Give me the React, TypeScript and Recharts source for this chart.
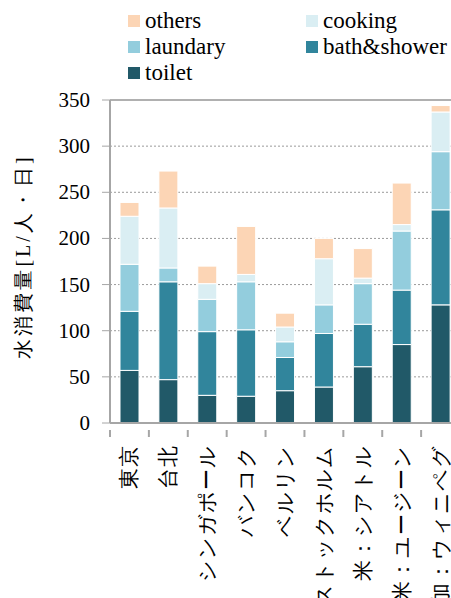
import React from 'react';
import { BarChart, Bar, XAxis, YAxis, CartesianGrid, Legend, ReferenceLine } from 'recharts';

const cities = ['東京', '台北', 'シンガポール', 'バンコク', 'ベルリン', 'ストックホルム', '米：シアトル', '米：ユージーン', '加：ウィニペグ'];
const toilet = [57, 47, 30, 29, 35, 39, 61, 85, 128];
const bathShower = [64, 106, 69, 72, 36, 58, 46, 59, 103];
const laundary = [51, 15, 35, 52, 17, 31, 44, 64, 63];
const cooking = [52, 65, 17, 8, 16, 50, 6, 7, 43];
const others = [15, 40, 19, 52, 15, 22, 32, 45, 7];
const yTicks = [0, 50, 100, 150, 200, 250, 300, 350];
const legendOrder = ['others', 'cooking', 'laundary', 'bath&shower', 'toilet'];

const data = cities.map((c, i) => ({
  city: c,
  toilet: toilet[i],
  bath: bathShower[i],
  laundary: laundary[i],
  cooking: cooking[i],
  others: others[i],
}));

const SERIF = 'Times New Roman';

const renderLegend = (props: any) => {
  const payload = props.payload || [];
  const items = legendOrder.map((n) => payload.find((p: any) => p.value === n)).filter(Boolean);
  return (
    <div
      style={{
        display: 'grid',
        gridTemplateColumns: '178px 178px',
        marginLeft: 128,
        paddingTop: 8,
        fontFamily: SERIF,
        fontSize: 23,
        color: '#000',
      }}
    >
      {items.map((it: any) => (
        <div key={it.value} style={{ height: 26, lineHeight: '26px', display: 'flex', alignItems: 'center', whiteSpace: 'nowrap' }}>
          <span style={{ display: 'inline-block', width: 12, height: 12, background: it.color, marginRight: 5 }} />
          <span>{it.value}</span>
        </div>
      ))}
    </div>
  );
};

const CityTick = (props: any) => {
  const { x, y, payload, index } = props;
  const half = payload && payload.offset ? payload.offset : 19.4;
  const ty = y + 14;
  return (
    <g>
      <line x1={x - half} x2={x - half} y1={y - 1} y2={y + 6} stroke="#a6a6a6" strokeWidth={2} />
      {index === cities.length - 1 ? (
        <line x1={x + half} x2={x + half} y1={y - 1} y2={y + 6} stroke="#a6a6a6" strokeWidth={2} />
      ) : null}
      <text
        x={x}
        y={ty}
        transform={`rotate(-90, ${x}, ${ty})`}
        textAnchor="end"
        dominantBaseline="central"
        fontSize={21}
        letterSpacing={1}
        fill="#000"
      >
        {payload.value}
      </text>
    </g>
  );
};

const ValueTick = (props: any) => {
  const { x, y, payload } = props;
  return (
    <text x={x} y={y} textAnchor="end" dominantBaseline="central" fontFamily={SERIF} fontSize={21} fill="#000">
      {payload.value}
    </text>
  );
};

const YLabel = (props: any) => {
  const vb = props.viewBox || { x: 0, y: 100, width: 110, height: 323 };
  const cx = vb.x + 23;
  const cy = vb.y + vb.height / 2 - 5;
  return (
    <text
      x={cx}
      y={cy}
      transform={`rotate(-90, ${cx}, ${cy})`}
      textAnchor="middle"
      dominantBaseline="central"
      fontSize={20}
      letterSpacing={3}
      fill="#000"
    >
      水消費量[L/人・日]
    </text>
  );
};

export default function App() {
  return (
    <div style={{ position: 'fixed', left: 0, top: 0, width: 451, height: 598, overflow: 'hidden', background: '#fff' }}>
      <BarChart
        width={460}
        height={598}
        data={data}
        barSize={19}
        margin={{ top: 10, right: 0, bottom: 0, left: 0 }}
      >
        <CartesianGrid vertical={false} stroke="#9a9a9a" strokeDasharray="2 2" />
        <XAxis
          dataKey="city"
          height={175}
          interval={0}
          tickLine={false}
          axisLine={{ stroke: '#a6a6a6', strokeWidth: 2 }}
          tick={<CityTick />}
        />
        <YAxis
          width={110}
          domain={[0, 350]}
          ticks={yTicks}
          interval={0}
          tickSize={8}
          tickMargin={12}
          tickLine={{ stroke: '#a6a6a6', strokeWidth: 1 }}
          axisLine={{ stroke: '#a6a6a6', strokeWidth: 2 }}
          tick={<ValueTick />}
          label={<YLabel />}
        />
        <ReferenceLine y={350} stroke="#b0b0b0" strokeWidth={2} />
        <Legend verticalAlign="top" height={90} content={renderLegend} wrapperStyle={{ top: 0, left: 0, width: 451 }} />
        <Bar dataKey="toilet" name="toilet" stackId="s" fill="#215968" stroke="#ffffff" strokeWidth={1} isAnimationActive={false} />
        <Bar dataKey="bath" name="bath&shower" stackId="s" fill="#31859C" stroke="#ffffff" strokeWidth={1} isAnimationActive={false} />
        <Bar dataKey="laundary" name="laundary" stackId="s" fill="#93CDDD" stroke="#ffffff" strokeWidth={1} isAnimationActive={false} />
        <Bar dataKey="cooking" name="cooking" stackId="s" fill="#DAEEF3" stroke="#ffffff" strokeWidth={1} isAnimationActive={false} />
        <Bar dataKey="others" name="others" stackId="s" fill="#FCD5B5" stroke="#ffffff" strokeWidth={1} isAnimationActive={false} />
      </BarChart>
    </div>
  );
}
